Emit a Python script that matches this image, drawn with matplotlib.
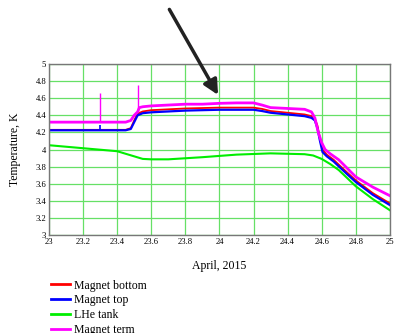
import matplotlib.pyplot as plt

# Temperatures over 23-25 April 2015 (day of month, K)
bottom_day = [23.0, 23.3, 23.45, 23.48, 23.50, 23.52, 23.55, 23.6, 23.7, 23.8, 23.9, 24.0, 24.1, 24.2, 24.25,
              24.3, 24.4, 24.5, 24.54, 24.56, 24.575, 24.59, 24.605, 24.63, 24.67, 24.75, 24.8, 24.9, 25.0]
bottom_temp = [4.23, 4.23, 4.23, 4.25, 4.34, 4.42, 4.445, 4.46, 4.47, 4.48, 4.485, 4.49, 4.49, 4.49, 4.475,
               4.45, 4.43, 4.41, 4.39, 4.36, 4.28, 4.13, 4.00, 3.94, 3.88, 3.73, 3.64, 3.49, 3.37]

top_day = [23.0, 23.45, 23.48, 23.50, 23.52, 23.55, 23.6, 23.7, 23.8, 23.9, 24.0, 24.1,
           24.2, 24.25, 24.3, 24.4, 24.5, 24.54, 24.56, 24.575, 24.59, 24.605, 24.63, 24.67, 24.75, 24.8, 24.9, 25.0]
top_temp = [4.225, 4.225, 4.24, 4.32, 4.40, 4.425, 4.435, 4.445, 4.455, 4.46, 4.465, 4.465,
            4.465, 4.45, 4.43, 4.41, 4.39, 4.37, 4.34, 4.25, 4.10, 3.97, 3.92, 3.86, 3.71, 3.62, 3.47, 3.35]
top_spike_day = [23.30]
top_spike_peak = [4.29]

lhe_day = [23.0, 23.2, 23.4, 23.5, 23.55, 23.6, 23.7, 23.9, 24.1, 24.3, 24.5, 24.55, 24.6, 24.65, 24.7,
           24.8, 24.9, 25.0]
lhe_temp = [4.05, 4.015, 3.98, 3.92, 3.89, 3.885, 3.885, 3.91, 3.94, 3.955, 3.945, 3.93, 3.89, 3.83, 3.76,
            3.57, 3.42, 3.29]

term_day = [23.0, 23.45, 23.48, 23.50, 23.52, 23.53, 23.55, 23.6, 23.7,
            23.8, 23.9, 24.0, 24.1, 24.2, 24.25, 24.3, 24.4, 24.5, 24.54, 24.56, 24.58, 24.6, 24.62, 24.65, 24.7,
            24.8, 24.9, 25.0]
term_temp = [4.32, 4.32, 4.34, 4.40, 4.44, 4.49, 4.50, 4.51, 4.52,
             4.53, 4.53, 4.54, 4.545, 4.545, 4.52, 4.49, 4.48, 4.47, 4.44, 4.37, 4.2, 4.08, 4.00, 3.95, 3.88,
             3.68, 3.56, 3.46]
term_spike_day = [23.30, 23.52]
term_spike_base = [4.32, 4.44]
term_spike_peak = [4.66, 4.75]

x_ticks = [23, 23.2, 23.4, 23.6, 23.8, 24, 24.2, 24.4, 24.6, 24.8, 25]
y_ticks = [3, 3.2, 3.4, 3.6, 3.8, 4, 4.2, 4.4, 4.6, 4.8, 5]

plt.rcParams['font.family'] = ['Liberation Serif', 'DejaVu Serif']

fig = plt.figure(figsize=(3.97, 3.33), dpi=100)
ax = fig.add_axes([0.1234, 0.2943, 0.8586, 0.5135])

ax.plot(bottom_day, bottom_temp, color='#ff0000', lw=1.3, label='Magnet bottom')
ax.plot(top_day, top_temp, color='#0000ff', lw=1.6, label='Magnet top')
ax.vlines(top_spike_day, top_temp[0], top_spike_peak, color='#0000ff', lw=1.2)
ax.plot(lhe_day, lhe_temp, color='#00ee00', lw=1.5, label='LHe tank')
ax.plot(term_day, term_temp, color='#ff00ff', lw=2.0, label='Magnet term')
ax.vlines(term_spike_day, term_spike_base, term_spike_peak, color='#ff00ff', lw=1.0)

ax.set_xlim(23, 25)
ax.set_ylim(3, 5)
ax.set_xticks(x_ticks)
ax.set_yticks(y_ticks)
ax.set_xticklabels([f'{t:g}' for t in x_ticks])
ax.set_yticklabels([f'{t:g}' for t in y_ticks])
ax.tick_params(length=0, labelsize=6.2, pad=2)
ax.grid(True, color='#66e066', lw=0.9)
ax.set_axisbelow(True)
for spine in ax.spines.values():
    spine.set_color('#777777')
    spine.set_linewidth(1.0)

ax.set_xlabel('April, 2015', fontsize=8.5, labelpad=10)
ax.set_ylabel('Temperature, K', fontsize=8.5, labelpad=10)

# arrow pointing at the plateau
ax.annotate('', xy=(24.0, 4.61), xytext=(168 / 397, 1 - 7 / 333), textcoords='figure fraction',
            arrowprops=dict(arrowstyle='-|>', lw=2.5, color='#222222', mutation_scale=22),
            annotation_clip=False)

leg = fig.legend(loc='upper left', bbox_to_anchor=(47 / 397, 1 - 276 / 333), frameon=False, fontsize=8.5,
                 handlelength=1.65, handletextpad=0.35, labelspacing=0.25, borderaxespad=0, borderpad=0.3)
for line in leg.get_lines():
    line.set_linewidth(2.0)

plt.savefig('out.png', dpi=100)
